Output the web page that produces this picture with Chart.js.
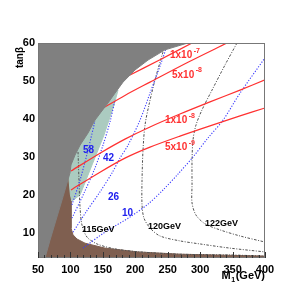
<!DOCTYPE html>
<html>
<head>
<meta charset="UTF-8">
<title>tanβ vs M1</title>
<script src="https://cdn.jsdelivr.net/npm/chart.js"></script>
<style>
  html, body { margin: 0; padding: 0; background: #fff; }
  canvas { display: block; }
</style>
</head>
<body>
<canvas id="chart" width="300" height="300"></canvas>
<script>
// axes
const xRange = [50, 400];
const yRange = [3.4, 60];
const xTicks = [50, 100, 150, 200, 250, 300, 350, 400];
const yTicks = [10, 20, 30, 40, 50, 60];

// shaded regions, points are [M1, tanb]
const grayRegion = [[50, 60], [281, 60], [245.8, 58.2], [219.6, 55.5], [199.6, 52.9], [181.1, 49.7],
  [168.7, 46.8], [157.9, 44.2], [147.1, 41.8], [137.9, 39.7], [127.1, 36.3], [114.8, 33.1],
  [107.1, 30.5], [100.9, 27.9], [99.3, 25.8], [88.5, 19.5], [77.8, 13.4], [68.5, 8.1],
  [60.8, 3.4], [50, 3.4], [50, 60]];
const tealRegion = [[173.4, 47.6], [166, 46.6], [155, 44], [144, 41.6], [135, 39.4], [124, 36],
  [112, 32.8], [104, 30.2], [98, 27.6], [97, 25.5], [100, 20], [102.4, 18.4], [114.8, 20.0],
  [124.0, 23.9], [133.3, 27.9], [142.5, 31.8], [151.8, 35.8], [159.5, 39.7], [167.2, 43.7],
  [173.4, 47.6]];
const brownRegion = [[50, 26.5], [99.3, 26.5], [100.9, 18.4], [100.9, 11.3], [104, 9.5],
  [110.1, 8.4], [122.5, 7.3], [153.3, 6.0], [204.2, 5.0], [269, 4.4], [400, 3.9], [400, 3.4],
  [50, 3.4], [50, 26.5]];

// red contours
const red1e7 = [[188.8, 51.3], [238.1, 55.6], [287.5, 60]];
const red5e8 = [[145.6, 42.4], [184, 46.2], [222.7, 49.7], [282, 55], [341.4, 60]];
const red1e8 = [[100.9, 26.3], [145.6, 31.0], [184.1, 34.7], [222.7, 37.9], [268.9, 41.3],
  [315.2, 44.5], [361.5, 47.6], [400, 50.3]];
const red5e9 = [[100.9, 21.3], [145.6, 26.0], [184.1, 29.7], [222.7, 32.6], [268.9, 35.5],
  [315.2, 38.2], [361.5, 40.8], [400, 42.9]];

// blue dotted contours
const blue58 = [[102.4, 17.4], [114.8, 23.9], [127.1, 31.8], [137.9, 39.5]];
const blue42 = [[102.4, 13.9], [120.9, 20.5], [137.9, 27.1], [150.2, 33.1], [161.0, 39.2], [168.7, 45.0]];
const blue26 = [[104.0, 10.2], [124.0, 15.5], [145.6, 20.8], [164.1, 25.8], [176.4, 29.7],
  [188.8, 33.1], [207.3, 39.7], [222.7, 46.8], [238.1, 53.9], [250.4, 60]];
const blue10 = [[119.4, 6.0], [153.3, 10.2], [191.9, 14.2], [219.6, 17.6], [242.7, 21.3],
  [265.9, 25.5], [289.0, 30.0], [312.1, 35.0], [335.3, 39.7], [361.5, 46.8], [400, 56.1]];

// Higgs mass contours
const mh115 = [[111.7, 31.3], [113.2, 23.9], [114.8, 16.8], [117.8, 12.1], [125.6, 8.9],
  [141.0, 7.1], [168.7, 5.8], [207.3, 5.0], [269.0, 4.4], [346.0, 4.2], [400, 3.9]];
const mh120 = [[242.7, 57.6], [230.4, 50.3], [221.1, 43.7], [215.0, 38.4], [211.9, 31.8],
  [210.4, 23.9], [210.4, 17.4], [213.4, 13.9], [222.7, 11.3], [238.1, 9.2], [269.0, 7.9],
  [299.8, 7.1], [346.0, 6.0], [400, 5.0]];
const mh122 = [[356.8, 60], [338.3, 54.2], [318.3, 47.6], [302.9, 42.4], [293.6, 38.4],
  [289.0, 34.5], [287.5, 29.2], [287.5, 22.6], [287.5, 17.9], [293.6, 14.7], [307.5, 12.4],
  [330.6, 10.8], [361.5, 9.2], [400, 7.6]];

// labels
const redLabels = ['1x10', '5x10', '1x10', '5x10'];
const redExps = ['-7', '-8', '-8', '-9'];
const redLabelPos = [[253.5, 56.8], [256.6, 51.6], [245.8, 39.7], [245.8, 32.6]];
const blueLabels = ['58', '42', '26', '10'];
const blueLabelPos = [[119.4, 31.8], [150.2, 29.6], [157.9, 19.3], [179.5, 15.1]];
const mhLabels = ['115GeV', '120GeV', '122GeV'];
const mhLabelPos = [[117.8, 11.0], [219.6, 11.8], [307.5, 12.4]];

const FONT = '"Liberation Sans", Arial, sans-serif';
const GRAY = '#808080', TEAL = '#abcbc0', BROWN = '#7f5f50';
const RED = '#ff3030', BLUE = '#3a3aff', BLACK = '#505050';
const DOT = [1.2, 1.6], DASHDOT = [2.5, 1.5, 1, 1.5];

const pts = arr => arr.map(p => ({ x: p[0], y: p[1] }));
function region(arr, color) {
  return { data: pts(arr), pointRadius: 0, borderWidth: 1, borderColor: color,
    backgroundColor: color, fill: 'shape', tension: 0 };
}
function curve(arr, color, width, dash) {
  return { data: pts(arr), pointRadius: 0, borderWidth: width, borderColor: color,
    borderDash: dash, fill: false, tension: 0.3 };
}

const decor = {
  id: 'decor',
  afterDatasetsDraw(chart) {
    const { ctx, chartArea: a, scales: { x, y } } = chart;
    ctx.save();
    // frame
    ctx.strokeStyle = '#777';
    ctx.lineWidth = 1;
    ctx.strokeRect(a.left + 0.5, a.top + 0.5, a.right - a.left - 1, a.bottom - a.top - 1);
    // inward ticks on the bottom axis
    ctx.strokeStyle = '#333';
    for (let v = xRange[0]; v <= xRange[1]; v += 10) {
      const px = Math.round(x.getPixelForValue(v)) + 0.5;
      const len = v % 50 === 0 ? 6 : 3;
      ctx.beginPath();
      ctx.moveTo(px, a.bottom);
      ctx.lineTo(px, a.bottom - len);
      ctx.stroke();
    }

    ctx.textAlign = 'left';
    ctx.textBaseline = 'middle';
    // red labels with exponent
    redLabels.forEach((t, i) => {
      const px = x.getPixelForValue(redLabelPos[i][0]);
      const py = y.getPixelForValue(redLabelPos[i][1]);
      ctx.fillStyle = RED;
      ctx.font = 'bold 10px ' + FONT;
      ctx.fillText(t, px, py);
      const w = ctx.measureText(t).width;
      ctx.font = 'bold 7px ' + FONT;
      ctx.fillText(redExps[i], px + w + 1.5, py - 4.5);
    });
    // blue labels
    ctx.fillStyle = '#2020ee';
    ctx.font = 'bold 10px ' + FONT;
    blueLabels.forEach((t, i) => {
      ctx.fillText(t, x.getPixelForValue(blueLabelPos[i][0]), y.getPixelForValue(blueLabelPos[i][1]));
    });
    // Higgs mass labels
    ctx.fillStyle = '#000';
    ctx.font = 'bold 9px ' + FONT;
    mhLabels.forEach((t, i) => {
      ctx.fillText(t, x.getPixelForValue(mhLabelPos[i][0]), y.getPixelForValue(mhLabelPos[i][1]));
    });

    // axis titles
    ctx.fillStyle = '#000';
    ctx.font = 'bold 10px ' + FONT;
    ctx.save();
    ctx.translate(20, a.top + 4);
    ctx.rotate(-Math.PI / 2);
    ctx.textAlign = 'right';
    ctx.fillText('tanβ', 0, 0);
    ctx.restore();

    const big = 'bold 11px ' + FONT, small = 'bold 7px ' + FONT;
    ctx.font = big;
    const wM = ctx.measureText('M').width, wG = ctx.measureText('(GeV)').width;
    ctx.font = small;
    const w1 = ctx.measureText('1').width;
    const tx = a.right - (wM + w1 + wG + 1);
    const ty = 276;
    ctx.font = big;
    ctx.fillText('M', tx, ty);
    ctx.font = small;
    ctx.fillText('1', tx + wM + 0.5, ty + 4);
    ctx.font = big;
    ctx.fillText('(GeV)', tx + wM + w1 + 1, ty);
    ctx.restore();
  }
};

new Chart(document.getElementById('chart'), {
  type: 'line',
  data: {
    datasets: [
      region(grayRegion, GRAY),
      curve(red1e7, RED, 1.2, []),
      curve(red5e8, RED, 1.2, []),
      curve(red1e8, RED, 1.2, []),
      curve(red5e9, RED, 1.2, []),
      curve(blue58, BLUE, 1.1, DOT),
      curve(blue42, BLUE, 1.1, DOT),
      curve(blue26, BLUE, 1.1, DOT),
      curve(blue10, BLUE, 1.1, DOT),
      curve(mh115, BLACK, 1, DASHDOT),
      curve(mh120, BLACK, 1, DASHDOT),
      curve(mh122, BLACK, 1, DASHDOT),
      region(tealRegion, TEAL),
      region(brownRegion, BROWN)
    ]
  },
  options: {
    responsive: false,
    animation: false,
    layout: { padding: { top: 43, right: 35, left: 0, bottom: 0 } },
    plugins: { legend: { display: false }, tooltip: { enabled: false } },
    scales: {
      x: {
        type: 'linear', min: xRange[0], max: xRange[1],
        grid: { display: false, drawTicks: false },
        border: { display: false },
        afterBuildTicks: s => { s.ticks = xTicks.map(v => ({ value: v })); },
        afterFit: s => { s.height = 42; },
        ticks: { color: '#000', padding: 5, maxRotation: 0, font: { family: FONT, size: 11, weight: 'bold' } }
      },
      y: {
        type: 'linear', min: yRange[0], max: yRange[1],
        grid: { display: false, drawTicks: false },
        border: { display: false },
        afterBuildTicks: s => { s.ticks = yTicks.map(v => ({ value: v })); },
        afterFit: s => { s.width = 38; },
        ticks: { color: '#000', padding: 3, font: { family: FONT, size: 11, weight: 'bold' } }
      }
    }
  },
  plugins: [decor]
});
</script>
</body>
</html>
